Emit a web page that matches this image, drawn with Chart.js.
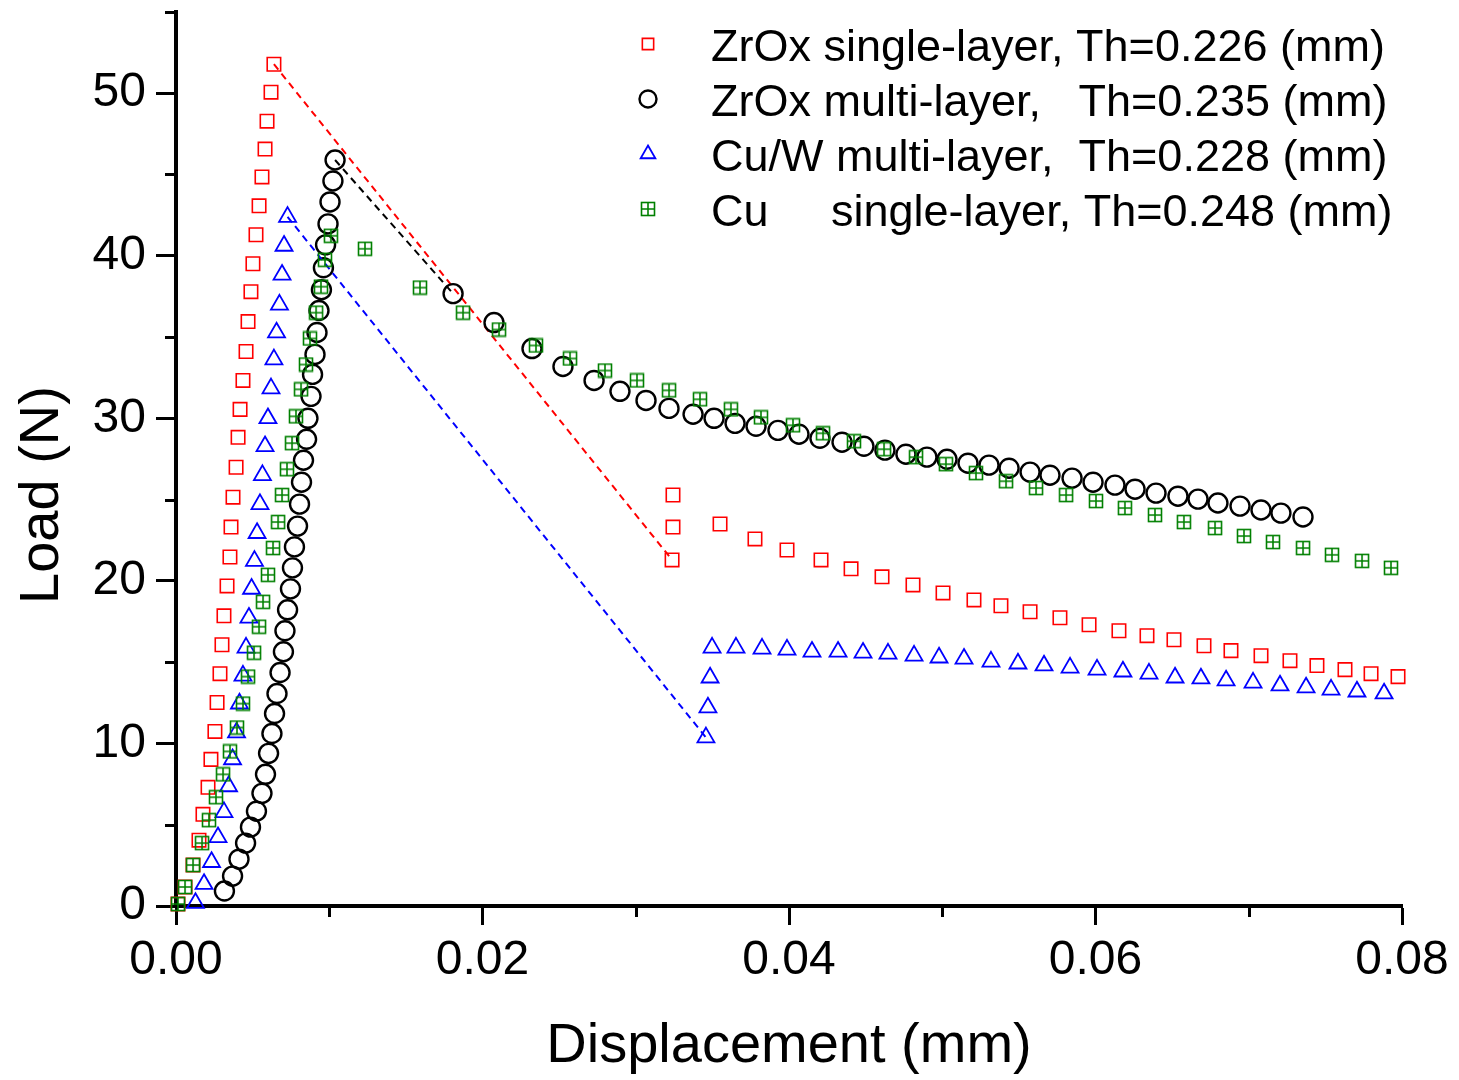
<!DOCTYPE html>
<html>
<head>
<meta charset="utf-8">
<script src="https://cdn.jsdelivr.net/npm/chart.js@4.4.0/dist/chart.umd.min.js"></script>
<style>
  html, body { margin: 0; padding: 0; background: #fff; }
  #wrap { width: 1459px; height: 1080px; }
</style>
</head>
<body>
<div id="wrap"><canvas id="loadChart"></canvas></div>
<script>
// Load-displacement curves, displacement in mm, load in N
var zrSingleX = [0.00013, 0.00059, 0.00111, 0.00150, 0.00176, 0.00209, 0.00228, 0.00254, 0.00268, 0.00287,
    0.00300, 0.00313, 0.00333, 0.00352, 0.00359, 0.00372, 0.00392, 0.00405, 0.00418, 0.00437,
    0.00457, 0.00470, 0.00489, 0.00502, 0.00522, 0.00542, 0.00561, 0.00581, 0.00594, 0.00620, 0.00639,
    0.03237, 0.03243, 0.03243, 0.03550, 0.03778, 0.03987, 0.04209, 0.04405, 0.04607, 0.04809,
    0.05005, 0.05207, 0.05383, 0.05573, 0.05768, 0.05958, 0.06153, 0.06336, 0.06512, 0.06708,
    0.06884, 0.07080, 0.07269, 0.07445, 0.07628, 0.07798, 0.07974];
var zrSingleY = [0.12, 1.17, 2.52, 4.05, 5.64, 7.30, 9.02, 10.74, 12.52, 14.29,
    16.07, 17.85, 19.69, 21.47, 23.31, 25.15, 26.99, 28.83, 30.55, 32.33,
    34.11, 35.95, 37.79, 39.51, 41.29, 43.07, 44.85, 46.56, 48.28, 50.06, 51.78,
    21.29, 23.31, 25.28, 23.50, 22.58, 21.90, 21.29, 20.74, 20.25, 19.75,
    19.26, 18.83, 18.47, 18.10, 17.73, 17.30, 16.93, 16.63, 16.38, 16.01,
    15.71, 15.40, 15.09, 14.79, 14.54, 14.29, 14.11];

var zrMultiX = [0.00316, 0.00369, 0.00411, 0.00454, 0.00486, 0.00525, 0.00561, 0.00584, 0.00604, 0.00626,
    0.00643, 0.00659, 0.00679, 0.00701, 0.00711, 0.00728, 0.00747, 0.00760, 0.00773, 0.00793,
    0.00806, 0.00819, 0.00832, 0.00852, 0.00861, 0.00881, 0.00891, 0.00907, 0.00920, 0.00933,
    0.00949, 0.00962, 0.00976, 0.00992, 0.01005, 0.01024, 0.01038,
    0.01808, 0.02075, 0.02323, 0.02525, 0.02728, 0.02897, 0.03067, 0.03217, 0.03374, 0.03511,
    0.03648, 0.03785, 0.03928, 0.04065, 0.04202, 0.04346, 0.04489, 0.04626, 0.04763, 0.04900,
    0.05031, 0.05168, 0.05305, 0.05436, 0.05573, 0.05703, 0.05847, 0.05984, 0.06127, 0.06258,
    0.06395, 0.06538, 0.06669, 0.06799, 0.06943, 0.07080, 0.07210, 0.07354];
var zrMultiY = [0.92, 1.84, 2.88, 3.87, 4.85, 5.83, 6.93, 8.10, 9.39, 10.61,
    11.84, 13.07, 14.36, 15.64, 16.93, 18.22, 19.51, 20.80, 22.09, 23.37,
    24.72, 26.07, 27.42, 28.71, 30.00, 31.35, 32.70, 33.93, 35.28, 36.63,
    37.91, 39.26, 40.67, 41.96, 43.31, 44.60, 45.89,
    37.67, 35.89, 34.29, 33.19, 32.33, 31.66, 31.10, 30.61, 30.25, 30.00,
    29.69, 29.51, 29.26, 29.02, 28.77, 28.53, 28.28, 28.04, 27.79, 27.61,
    27.48, 27.24, 27.12, 26.93, 26.69, 26.50, 26.32, 26.07, 25.89, 25.64,
    25.40, 25.21, 25.03, 24.79, 24.60, 24.36, 24.17, 23.93];

var cuwMultiX = [0.00127, 0.00183, 0.00232, 0.00274, 0.00313, 0.00343, 0.00369, 0.00395, 0.00414, 0.00437,
    0.00457, 0.00476, 0.00493, 0.00512, 0.00529, 0.00548, 0.00564, 0.00581, 0.00600, 0.00620,
    0.00639, 0.00656, 0.00675, 0.00692, 0.00705, 0.00728,
    0.03458, 0.03471, 0.03485, 0.03498, 0.03654, 0.03824, 0.03987, 0.04150, 0.04320, 0.04483,
    0.04646, 0.04816, 0.04979, 0.05142, 0.05318, 0.05494, 0.05664, 0.05834, 0.06010, 0.06179,
    0.06349, 0.06519, 0.06688, 0.06852, 0.07028, 0.07204, 0.07374, 0.07537, 0.07706, 0.07883];
var cuwMultiY = [0.18, 1.35, 2.70, 4.23, 5.77, 7.36, 9.02, 10.67, 12.45, 14.17,
    15.89, 17.73, 19.51, 21.23, 22.94, 24.72, 26.50, 28.28, 30.00, 31.84,
    33.62, 35.28, 36.99, 38.83, 40.61, 42.39,
    10.37, 12.21, 14.05, 15.89, 15.89, 15.83, 15.77, 15.64, 15.64, 15.58,
    15.52, 15.40, 15.28, 15.21, 15.03, 14.91, 14.79, 14.66, 14.54, 14.42,
    14.29, 14.05, 13.99, 13.87, 13.74, 13.56, 13.44, 13.31, 13.19, 13.07];

var cuSingleX = [0.00013, 0.00059, 0.00111, 0.00170, 0.00215, 0.00261, 0.00307, 0.00352, 0.00398, 0.00437,
    0.00470, 0.00509, 0.00542, 0.00568, 0.00600, 0.00633, 0.00666, 0.00692, 0.00724, 0.00757,
    0.00783, 0.00816, 0.00848, 0.00874, 0.00914, 0.00946, 0.00972, 0.01011,
    0.01233, 0.01592, 0.01873, 0.02108, 0.02349, 0.02571, 0.02799, 0.03008, 0.03217, 0.03419,
    0.03621, 0.03817, 0.04026, 0.04222, 0.04424, 0.04620, 0.04829, 0.05024, 0.05220, 0.05416,
    0.05612, 0.05808, 0.06003, 0.06192, 0.06388, 0.06577, 0.06780, 0.06969, 0.07158, 0.07354,
    0.07543, 0.07739, 0.07928];
var cuSingleY = [0.12, 1.17, 2.52, 3.87, 5.28, 6.69, 8.10, 9.51, 10.98, 12.45,
    14.11, 15.58, 17.18, 18.71, 20.37, 22.02, 23.62, 25.28, 26.87, 28.47,
    30.12, 31.78, 33.31, 34.91, 36.50, 38.10, 39.75, 41.23,
    40.43, 38.04, 36.50, 35.46, 34.48, 33.68, 32.94, 32.33, 31.72, 31.17,
    30.55, 30.06, 29.57, 29.08, 28.59, 28.10, 27.61, 27.18, 26.63, 26.13,
    25.71, 25.28, 24.91, 24.48, 24.05, 23.62, 23.25, 22.76, 22.39, 22.02,
    21.60, 21.23, 20.80];

var seriesNames = [
    'ZrOx single-layer, Th=0.226 (mm)',
    'ZrOx multi-layer,   Th=0.235 (mm)',
    'Cu/W multi-layer,  Th=0.228 (mm)',
    'Cu     single-layer, Th=0.248 (mm)'
];
var xMajorTicks = [0, 0.02, 0.04, 0.06, 0.08];
var yMajorTicks = [0, 10, 20, 30, 40, 50];

var FONT = "'Liberation Sans', Arial, sans-serif";

function toPoints(xs, ys) {
    return xs.map(function (x, i) { return { x: x, y: ys[i] }; });
}

// index of the peak load: the dashed line joins it to the next point
function peakIndex(ys) {
    return ys.indexOf(Math.max.apply(null, ys));
}

function isMajor(list, v) {
    return list.some(function (m) { return Math.abs(m - v) < 1e-6; });
}

// square with a cross inside, for the Cu curve
function crossedSquare(size, color) {
    var c = document.createElement('canvas');
    c.width = size + 2;
    c.height = size + 2;
    var g = c.getContext('2d');
    g.strokeStyle = color;
    g.lineWidth = 1.6;
    var h = (size + 2) / 2;
    g.strokeRect(1.5, 1.5, size - 1, size - 1);
    g.beginPath();
    g.moveTo(h, 1.5); g.lineTo(h, size + 0.5);
    g.moveTo(1.5, h); g.lineTo(size + 0.5, h);
    g.stroke();
    return c;
}

var cuMarker = crossedSquare(14, '#008000');

function series(label, xs, ys, color, style, radius, width, dashed, order) {
    var jump = dashed ? peakIndex(ys) : -1;
    return {
        label: label,
        data: toPoints(xs, ys),
        showLine: dashed,
        borderColor: color,
        borderWidth: 2,
        borderDash: [7, 5],
        segment: {
            borderColor: function (ctx) { return ctx.p0DataIndex === jump ? color : 'rgba(0,0,0,0)'; }
        },
        pointStyle: style,
        pointRadius: radius,
        pointHoverRadius: radius,
        pointBorderWidth: width,
        pointBorderColor: color,
        pointBackgroundColor: 'rgba(0,0,0,0)',
        clip: false,
        order: order
    };
}

var datasets = [
    series(seriesNames[0], zrSingleX, zrSingleY, '#ff0000', 'rect', 9.5, 1.6, true, 3),
    series(seriesNames[1], zrMultiX, zrMultiY, '#000000', 'circle', 9.5, 2.4, true, 2),
    series(seriesNames[2], cuwMultiX, cuwMultiY, '#0000ff', 'triangle', 9.8, 1.8, true, 1),
    series(seriesNames[3], cuSingleX, cuSingleY, '#008000', cuMarker, 7, 1.6, false, 0)
];

// short minor ticks, y title and the legend inside the plot
var decorations = {
    id: 'decorations',
    afterDraw: function (chart) {
        var ctx = chart.ctx;
        var area = chart.chartArea;
        var xs = chart.scales.x, ys = chart.scales.y;
        ctx.save();
        ctx.strokeStyle = '#000';
        ctx.lineWidth = 3;
        ctx.beginPath();
        xs.ticks.forEach(function (t) {
            if (isMajor(xMajorTicks, t.value)) return;
            var px = Math.round(xs.getPixelForValue(t.value)) + 0.5;
            ctx.moveTo(px, area.bottom);
            ctx.lineTo(px, area.bottom + 11);
        });
        ys.ticks.forEach(function (t) {
            if (isMajor(yMajorTicks, t.value)) return;
            var py = Math.round(ys.getPixelForValue(t.value)) + 0.5;
            ctx.moveTo(area.left, py);
            ctx.lineTo(area.left - 11, py);
        });
        ctx.stroke();

        ctx.fillStyle = '#000';
        ctx.font = '56px ' + FONT;
        ctx.translate(58, 495);
        ctx.rotate(-Math.PI / 2);
        ctx.textAlign = 'center';
        ctx.textBaseline = 'alphabetic';
        ctx.fillText('Load (N)', 0, 0);
        ctx.restore();

        ctx.save();
        ctx.font = '45px ' + FONT;
        ctx.textBaseline = 'alphabetic';
        ctx.textAlign = 'left';
        chart.data.datasets.forEach(function (ds, i) {
            var cy = 44 + i * 55;
            ctx.strokeStyle = ds.pointBorderColor;
            ctx.fillStyle = 'rgba(0,0,0,0)';
            ctx.lineWidth = ds.pointBorderWidth;
            Chart.helpers.drawPoint(ctx, {
                pointStyle: ds.pointStyle,
                radius: ds.pointStyle === 'rect' ? 8 : 8.5,
                rotation: 0,
                borderWidth: ds.pointBorderWidth
            }, 648, cy);
            ctx.fillStyle = '#000';
            ctx.fillText(ds.label, 711, cy + 17);
        });
        ctx.restore();
    }
};

new Chart(document.getElementById('loadChart'), {
    type: 'scatter',
    data: { datasets: datasets },
    plugins: [decorations],
    options: {
        responsive: true,
        maintainAspectRatio: false,
        animation: false,
        layout: { padding: { top: 10, right: 57, bottom: 0, left: 0 } },
        plugins: {
            legend: { display: false },
            tooltip: { enabled: false }
        },
        scales: {
            x: {
                type: 'linear',
                min: 0,
                max: 0.08,
                afterFit: function (scale) {
                    scale.height = 174;
                    scale.paddingLeft = 0;
                    scale.paddingRight = 0;
                },
                border: { display: true, color: '#000', width: 4 },
                grid: {
                    drawOnChartArea: false,
                    drawTicks: true,
                    tickLength: 19,
                    tickWidth: 3,
                    tickColor: function (ctx) {
                        return isMajor(xMajorTicks, ctx.tick.value) ? '#000' : 'rgba(0,0,0,0)';
                    }
                },
                ticks: {
                    stepSize: 0.01,
                    autoSkip: false,
                    maxRotation: 0,
                    padding: 7,
                    color: '#000',
                    font: { family: FONT, size: 48 },
                    callback: function (v) { return isMajor(xMajorTicks, v) ? v.toFixed(2) : ''; }
                },
                title: {
                    display: true,
                    text: 'Displacement (mm)',
                    color: '#000',
                    font: { family: FONT, size: 56 },
                    padding: { top: 0, bottom: 0 }
                }
            },
            y: {
                type: 'linear',
                min: 0,
                max: 55,
                afterFit: function (scale) {
                    scale.width = 176;
                    scale.paddingTop = 0;
                    scale.paddingBottom = 0;
                },
                border: { display: true, color: '#000', width: 4 },
                grid: {
                    drawOnChartArea: false,
                    drawTicks: true,
                    tickLength: 20,
                    tickWidth: 3,
                    tickColor: function (ctx) {
                        return isMajor(yMajorTicks, ctx.tick.value) ? '#000' : 'rgba(0,0,0,0)';
                    }
                },
                ticks: {
                    stepSize: 5,
                    autoSkip: false,
                    padding: 10,
                    color: '#000',
                    font: { family: FONT, size: 48 },
                    callback: function (v) { return isMajor(yMajorTicks, v) ? String(v) : ''; }
                }
            }
        }
    }
});
</script>
</body>
</html>
